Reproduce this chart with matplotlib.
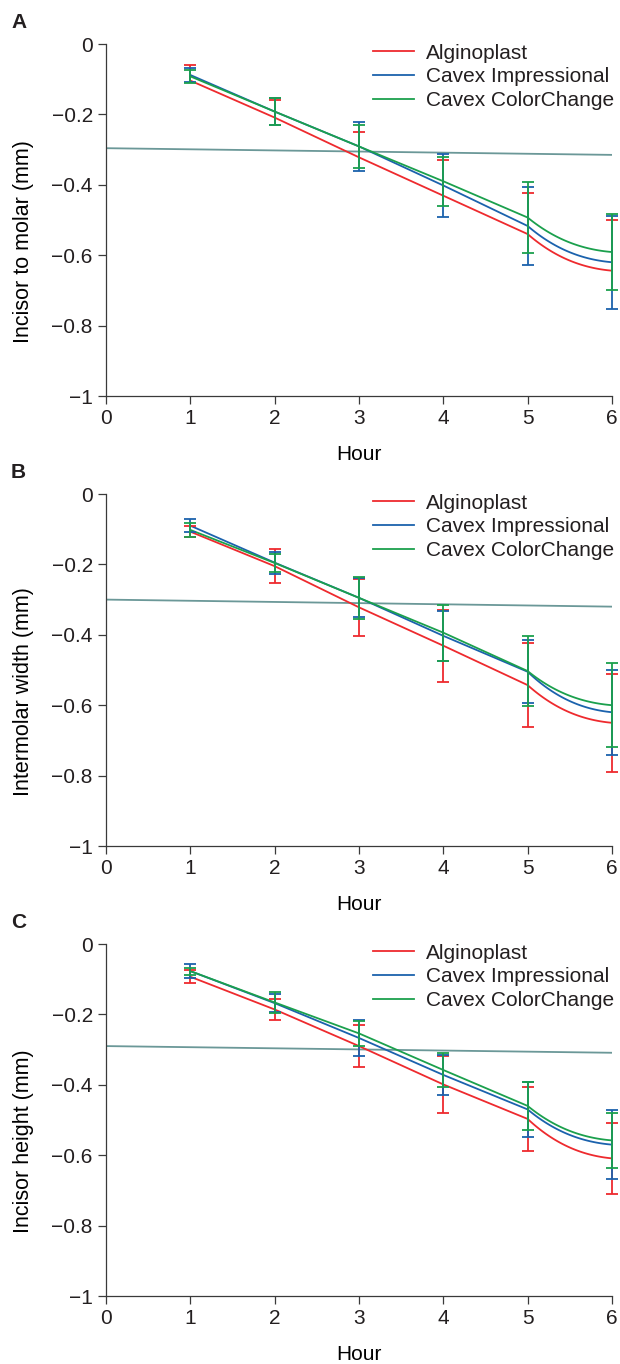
import numpy as np
import matplotlib

matplotlib.use("Agg")
import matplotlib.pyplot as plt
from matplotlib.ticker import FuncFormatter

plt.rcParams["font.family"] = ["Liberation Sans", "DejaVu Sans"]
plt.rcParams["text.color"] = "#231f20"

hours = [1, 2, 3, 4, 5, 6]
materials = ["Alginoplast", "Cavex Impressional", "Cavex ColorChange"]
colors = ["#ee2a2e", "#1b62ad", "#1ba04d"]
trend_x = [0, 6]

# A: incisor to molar (red bars are drawn upward only in the source)
a_alg = [-0.104, -0.209, -0.322, -0.431, -0.540, -0.644]
a_alg_sd = [0.043, 0.050, 0.071, 0.101, 0.118, 0.144]
a_alg_sd_lo = [0, 0, 0, 0, 0, 0]
a_imp = [-0.088, -0.192, -0.291, -0.402, -0.517, -0.620]
a_imp_sd = [0.019, 0.038, 0.070, 0.089, 0.110, 0.132]
a_col = [-0.092, -0.192, -0.291, -0.390, -0.493, -0.591]
a_col_sd = [0.019, 0.038, 0.061, 0.070, 0.100, 0.108]
a_trend = [-0.296, -0.315]

# B: intermolar width
b_alg = [-0.107, -0.205, -0.322, -0.431, -0.543, -0.650]
b_alg_sd = [0.015, 0.049, 0.080, 0.102, 0.120, 0.139]
b_imp = [-0.090, -0.195, -0.295, -0.403, -0.505, -0.620]
b_imp_sd = [0.019, 0.031, 0.055, 0.071, 0.090, 0.121]
b_col = [-0.102, -0.196, -0.295, -0.394, -0.503, -0.600]
b_col_sd = [0.019, 0.025, 0.060, 0.080, 0.100, 0.119]
b_trend = [-0.300, -0.320]

# C: incisor height
c_alg = [-0.093, -0.186, -0.290, -0.399, -0.497, -0.609]
c_alg_sd = [0.019, 0.030, 0.059, 0.080, 0.090, 0.100]
c_imp = [-0.077, -0.168, -0.267, -0.372, -0.470, -0.570]
c_imp_sd = [0.019, 0.025, 0.051, 0.057, 0.077, 0.098]
c_col = [-0.077, -0.166, -0.254, -0.358, -0.460, -0.558]
c_col_sd = [0.010, 0.031, 0.036, 0.047, 0.067, 0.079]
c_trend = [-0.290, -0.309]

panels = [
    ("A", "Incisor to molar (mm)", [(a_alg, a_alg_sd, a_alg_sd_lo),
                                    (a_imp, a_imp_sd, a_imp_sd),
                                    (a_col, a_col_sd, a_col_sd)], a_trend),
    ("B", "Intermolar width (mm)", [(b_alg, b_alg_sd, b_alg_sd),
                                    (b_imp, b_imp_sd, b_imp_sd),
                                    (b_col, b_col_sd, b_col_sd)], b_trend),
    ("C", "Incisor height (mm)", [(c_alg, c_alg_sd, c_alg_sd),
                                  (c_imp, c_imp_sd, c_imp_sd),
                                  (c_col, c_col_sd, c_col_sd)], c_trend),
]


def smooth_line(x, y):
    # straight segments, last segment eased like the source's smoothed curve
    x = np.asarray(x, float)
    y = np.asarray(y, float)
    c = y[-1] - y[-2]
    m0, m1 = 2.0 * c, 0.2 * c
    t = np.linspace(0, 1, 60)
    ys = ((2 * t**3 - 3 * t**2 + 1) * y[-2] + (t**3 - 2 * t**2 + t) * m0
          + (-2 * t**3 + 3 * t**2) * y[-1] + (t**3 - t**2) * m1)
    xs = x[-2] + t * (x[-1] - x[-2])
    return np.r_[x[:-1], xs[1:]], np.r_[y[:-1], ys[1:]]


def err_bars(ax, x, m, up, lo, color):
    x, m, up, lo = (np.asarray(v, float) for v in (x, m, up, lo))
    ax.vlines(x, m - lo, m + up, color=color, lw=1.3, clip_on=False, zorder=3)
    ax.plot(x, m + up, ls="none", marker="_", ms=8, mew=1.3, color=color,
            clip_on=False, zorder=3)
    k = lo > 0
    ax.plot(x[k], (m - lo)[k], ls="none", marker="_", ms=8, mew=1.3,
            color=color, clip_on=False, zorder=3)


fig = plt.figure(figsize=(6.2, 13.64), dpi=100)
tops = [44, 494, 944]
fmt = FuncFormatter(lambda v, p: f"{v:g}".replace("-", "\u2212"))

for (letter, ylabel, series, trend), top in zip(panels, tops):
    ax = fig.add_axes([106 / 620, 1 - (top + 352) / 1364, 506 / 620, 352 / 1364])
    ax.plot(trend_x, trend, color="#6b9898", lw=1.3, zorder=1)
    for (m, up, lo), col, name in zip(series, colors, materials):
        xs, ys = smooth_line(hours, m)
        ax.plot(xs, ys, color=col, lw=1.3, label=name, zorder=2)
        err_bars(ax, hours, m, up, lo, col)
    ax.set_xlim(0, 6)
    ax.set_ylim(-1, 0)
    ax.set_xticks(range(7))
    ax.set_yticks([0, -0.2, -0.4, -0.6, -0.8, -1])
    ax.yaxis.set_major_formatter(fmt)
    for s in ("top", "right"):
        ax.spines[s].set_visible(False)
    for s in ("left", "bottom"):
        ax.spines[s].set_color("#3a3a3a")
        ax.spines[s].set_linewidth(0.9)
    ax.tick_params(direction="out", length=5.5, width=0.9, color="#3a3a3a",
                   labelsize=15, labelcolor="#231f20", pad=4)
    ax.set_xlabel("Hour", fontsize=15, labelpad=12)
    ax.set_ylabel(ylabel, fontsize=15.5)
    ax.yaxis.set_label_coords(-0.142, 0.44)
    ax.legend(loc="upper left", bbox_to_anchor=(267 / 506, 1.0006),
              frameon=False, fontsize=15, handlelength=1.97,
              handletextpad=0.58, labelspacing=0.22, borderpad=0,
              borderaxespad=0)
    fig.text(11 / 620, 1 - (top - 16) / 1364, letter, fontsize=15,
             fontweight="bold", va="baseline")

fig.savefig("out.png", dpi=100)
